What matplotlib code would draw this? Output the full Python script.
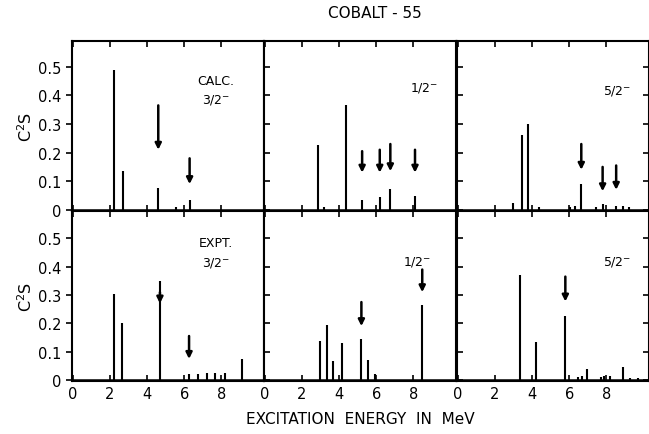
import matplotlib
matplotlib.use("Agg")
import matplotlib.pyplot as plt

# ---- data (energy in MeV, C^2S) ----
calc32_E = [2.2, 2.68, 4.6, 5.58, 6.29]
calc32_S = [0.487, 0.137, 0.076, 0.01, 0.033]
calc32_arrow_E = [4.6, 6.29]
calc32_arrow_top = [0.365, 0.18]
calc32_arrow_bot = [0.21, 0.09]

calc12_E = [2.84, 3.2, 4.36, 5.24, 6.19, 6.76, 8.09]
calc12_S = [0.225, 0.01, 0.367, 0.033, 0.045, 0.073, 0.05]
calc12_arrow_E = [5.24, 6.19, 6.76, 8.09]
calc12_arrow_top = [0.205, 0.21, 0.23, 0.21]
calc12_arrow_bot = [0.13, 0.13, 0.135, 0.13]

calc52_E = [2.97, 3.48, 3.8, 4.35, 6.06, 6.3, 6.65, 7.46, 7.8, 8.53, 8.9, 9.2]
calc52_S = [0.025, 0.262, 0.30, 0.01, 0.01, 0.012, 0.09, 0.01, 0.02, 0.015, 0.012, 0.01]
calc52_arrow_E = [6.65, 7.8, 8.53]
calc52_arrow_top = [0.23, 0.15, 0.155]
calc52_arrow_bot = [0.14, 0.065, 0.07]

expt32_E = [2.21, 2.64, 4.69, 6.26, 6.75, 7.24, 7.68, 8.22, 9.14]
expt32_S = [0.302, 0.20, 0.35, 0.02, 0.02, 0.025, 0.025, 0.025, 0.074]
expt32_arrow_E = [4.69, 6.26]
expt32_arrow_top = [0.31, 0.155]
expt32_arrow_bot = [0.27, 0.074]

expt12_E = [2.97, 3.35, 3.69, 4.17, 5.2, 5.55, 5.95, 8.48]
expt12_S = [0.138, 0.194, 0.068, 0.129, 0.144, 0.07, 0.02, 0.263]
expt12_arrow_E = [5.2, 8.48]
expt12_arrow_top = [0.275, 0.39]
expt12_arrow_bot = [0.19, 0.31]

expt52_E = [3.37, 4.23, 5.79, 6.45, 6.7, 6.96, 7.7, 7.9, 8.2, 8.9, 9.3, 9.7]
expt52_S = [0.372, 0.133, 0.226, 0.01, 0.012, 0.037, 0.01, 0.012, 0.015, 0.044, 0.006, 0.005]
expt52_arrow_E = [5.79]
expt52_arrow_top = [0.365]
expt52_arrow_bot = [0.277]

x_ticks = [0, 2, 4, 6, 8]
y_ticks = [0, 0.1, 0.2, 0.3, 0.4, 0.5]
y_ticklabels = ["0", "0.1", "0.2", "0.3", "0.4", "0.5"]

panels = [
    (calc32_E, calc32_S, calc32_arrow_E, calc32_arrow_top, calc32_arrow_bot, "CALC.\n3/2$^{-}$"),
    (calc12_E, calc12_S, calc12_arrow_E, calc12_arrow_top, calc12_arrow_bot, "1/2$^{-}$"),
    (calc52_E, calc52_S, calc52_arrow_E, calc52_arrow_top, calc52_arrow_bot, "5/2$^{-}$"),
    (expt32_E, expt32_S, expt32_arrow_E, expt32_arrow_top, expt32_arrow_bot, "EXPT.\n3/2$^{-}$"),
    (expt12_E, expt12_S, expt12_arrow_E, expt12_arrow_top, expt12_arrow_bot, "1/2$^{-}$"),
    (expt52_E, expt52_S, expt52_arrow_E, expt52_arrow_top, expt52_arrow_bot, "5/2$^{-}$"),
]
label_pos = [(7.7, 0.42), (8.6, 0.43), (8.6, 0.42), (7.7, 0.45), (8.2, 0.42), (8.6, 0.42)]

W, H = 649, 435
fig = plt.figure(figsize=(W / 100, H / 100), dpi=100)
plt.rcParams["font.family"] = "DejaVu Sans"

lefts = [72, 264, 457]
pw = 192
tops = [42, 212]
ph = 170

for i, (E, S, aE, aT, aB, lab) in enumerate(panels):
    r, c = divmod(i, 3)
    x0 = lefts[c]
    y0 = tops[r]
    ax = fig.add_axes([x0 / W, 1 - (y0 + ph) / H, pw / W, ph / H])
    ax.vlines(E, 0, S, colors="black", linewidth=1.5)
    for xe, yt, yb in zip(aE, aT, aB):
        ax.annotate("", xy=(xe, yb), xytext=(xe, yt),
                    arrowprops=dict(arrowstyle="-|>", color="black", lw=1.8,
                                    mutation_scale=9, shrinkA=0, shrinkB=0))
    ax.axhline(0, color="black", lw=1.8)
    ax.set_xlim(-0.05, 10.3)
    ax.set_ylim(-0.004, 0.59 if r == 0 else 0.597)
    ax.set_xticks(x_ticks)
    ax.set_yticks(y_ticks)
    for s in ax.spines.values():
        s.set_linewidth(1.5)
    ax.tick_params(axis="both", direction="in", length=4, width=1.2,
                   top=True, right=(c == 2), labelsize=10.5)
    if c == 0:
        ax.set_yticklabels(y_ticklabels)
        ax.set_ylabel("C$^{2}$S", fontsize=11.5, labelpad=2)
        ax.tick_params(axis="y", direction="out")
    else:
        ax.set_yticklabels([])
    if r == 1:
        ax.set_xticklabels([str(t) for t in x_ticks])
    else:
        ax.set_xticklabels([])
    ax.text(label_pos[i][0], label_pos[i][1], lab, ha="center", va="center",
            fontsize=9, linespacing=1.5)

fig.text(375 / W, 1 - 14 / H, "COBALT - 55", ha="center", va="center", fontsize=11)
fig.text(360 / W, 1 - 420 / H, "EXCITATION  ENERGY  IN  MeV", ha="center",
         va="center", fontsize=11)

fig.savefig("out.png", dpi=100)
